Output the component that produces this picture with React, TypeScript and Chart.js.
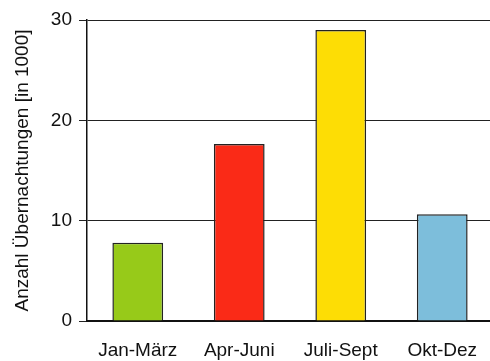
import React, { useEffect, useRef } from "react";
import { Chart, registerables } from "chart.js";

Chart.register(...registerables);

const categories = ["Jan-März", "Apr-Juni", "Juli-Sept", "Okt-Dez"];
const values = [7.8, 17.65, 29.0, 10.65];
const barColors = ["#97CA19", "#FA2A17", "#FDDD05", "#7DBEDB"];
const yTicks = [0, 10, 20, 30];
const yTitle = "Anzahl Übernachtungen [in 1000]";

export default function App() {
  const ref = useRef<HTMLCanvasElement | null>(null);
  useEffect(() => {
    if (!ref.current) return;
    const font = { family: "'Liberation Sans', Arial, sans-serif", size: 19 };
    const chart = new Chart(ref.current, {
      type: "bar",
      data: {
        labels: categories,
        datasets: [
          {
            data: values,
            backgroundColor: barColors,
            borderColor: "#222222",
            borderWidth: 1.5,
            categoryPercentage: 1,
            barPercentage: 0.5,
          },
        ],
      },
      options: {
        animation: false,
        responsive: false,
        maintainAspectRatio: false,
        layout: { padding: { top: 20, right: 0, left: 0, bottom: 0 } },
        plugins: { legend: { display: false }, tooltip: { enabled: false } },
        scales: {
          x: {
            grid: { display: false },
            border: { display: true, color: "#111111", width: 2 },
            ticks: { color: "#111111", font, padding: 10, maxRotation: 0 },
            afterFit: (s: any) => {
              s.height = 40;
            },
          },
          y: {
            min: 0,
            max: 30,
            afterBuildTicks: (s: any) => {
              s.ticks = yTicks.map((v) => ({ value: v }));
            },
            grid: { color: "#222222", lineWidth: 1, tickLength: 8, drawTicks: true },
            border: { display: true, color: "#111111", width: 1.5 },
            ticks: { color: "#111111", font, padding: 7 },
            title: { display: true, text: yTitle, color: "#111111", font, padding: { top: 11, bottom: 0 } },
            afterFit: (s: any) => {
              s.width = 87;
            },
          },
        },
      },
    });
    return () => chart.destroy();
  }, []);
  return (
    <div style={{ position: "fixed", left: 0, top: 0, width: 490, height: 361, background: "#fff", overflow: "hidden" }}>
      <canvas ref={ref} width={493} height={361} style={{ width: 493, height: 361, display: "block" }} />
    </div>
  );
}
